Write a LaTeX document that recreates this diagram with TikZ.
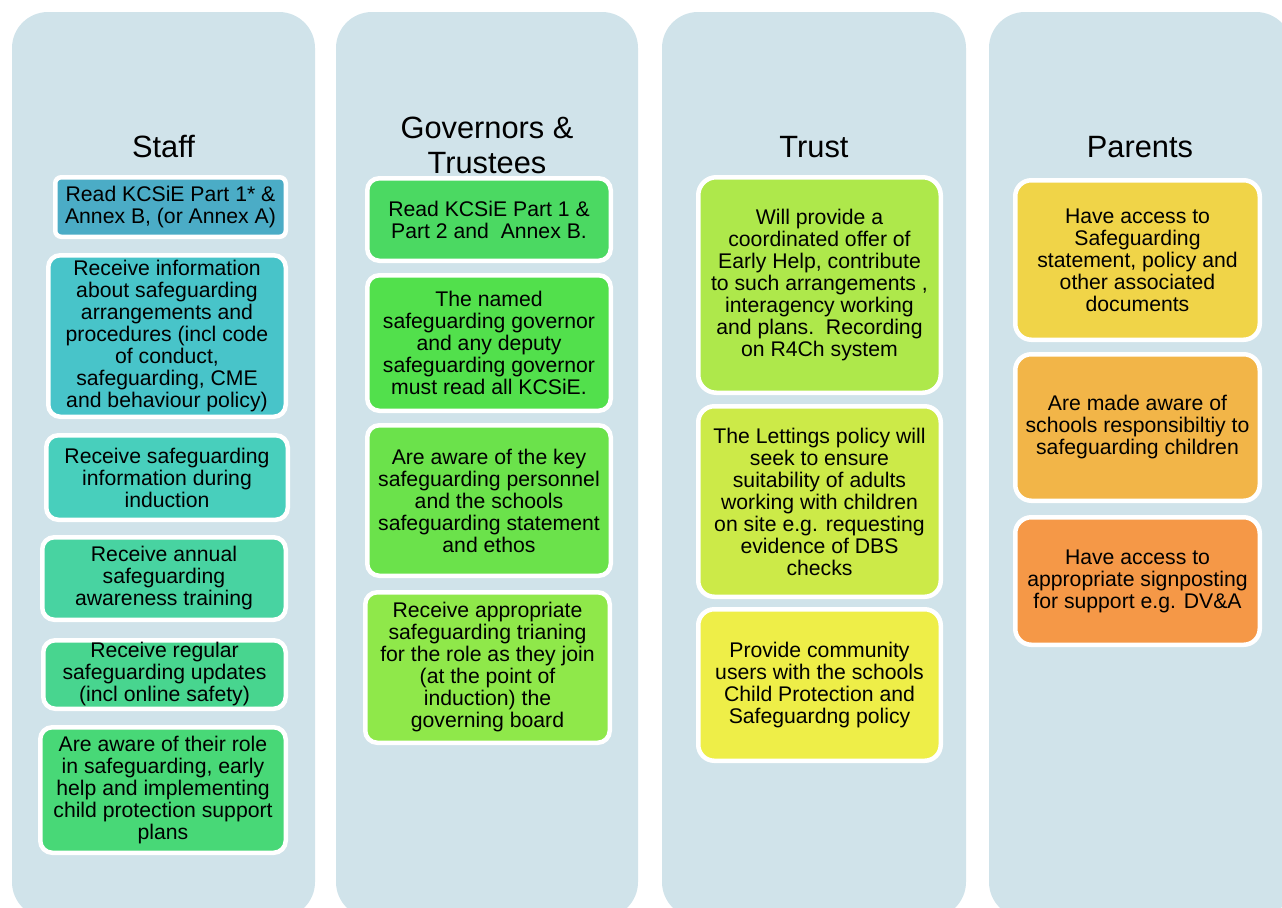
\documentclass[tikz,border=0pt]{standalone}
\usepackage{fontspec}
\setmainfont{Liberation Sans}
\definecolor{colbg}{HTML}{D0E3EA}
\definecolor{cSa}{HTML}{4BACC6}
\definecolor{cSb}{HTML}{48C4C9}
\definecolor{cSc}{HTML}{48CFBC}
\definecolor{cSd}{HTML}{48D3A1}
\definecolor{cSe}{HTML}{48D58F}
\definecolor{cSf}{HTML}{48D877}
\definecolor{cGa}{HTML}{4BD962}
\definecolor{cGb}{HTML}{52E04C}
\definecolor{cGc}{HTML}{6BE24B}
\definecolor{cGd}{HTML}{8FE84A}
\definecolor{cTa}{HTML}{AEE84B}
\definecolor{cTb}{HTML}{CCEA48}
\definecolor{cTc}{HTML}{EEEE48}
\definecolor{cPa}{HTML}{F0D448}
\definecolor{cPb}{HTML}{F2B548}
\definecolor{cPc}{HTML}{F59847}
\tikzset{
  colbox/.style={fill=colbg, rounded corners=18pt},
  bx/.style={draw=white, line width=2.25pt, rounded corners=6pt, inner sep=0pt,
    align=center, text=black, font=\fontsize{10.6}{11}\selectfont},
  ttl/.style={anchor=base, align=center, inner sep=0pt, text=black,
    font=\fontsize{15.4}{17.5}\selectfont}
}
\newcommand{\bx}[8][]{\node[bx, #1, fill=#7, minimum width={(#4-4.5)*0.5pt}, minimum height={(#5-4.5)*0.5pt}] (#2) at (#3,#6) {#8};}
\begin{document}
\begin{tikzpicture}[x=0.5pt,y=-0.5pt]
\useasboundingbox (0,0) rectangle (1282,907);
\clip (0,0) rectangle (1282,907);
% columns
\path[colbox] (12,12) rectangle (315,918);
\path[colbox] (336,12) rectangle (638,918);
\path[colbox] (662,12) rectangle (966,918);
\path[colbox] (989,12) rectangle (1292,918);
% titles
\node[ttl] (tS) at (163.5,157) {Staff};
\node[ttl] (tG) at (487,173) {Governors \&\\Trustees};
\node[ttl] (tT) at (814,157) {Trust};
\node[ttl] (tP) at (1140,157) {Parents};
% Staff
\bx[rounded corners=3pt]{s1}{170.5}{235}{64}{207}{cSa}{Read KCSiE Part 1* \&\\Annex B, (or Annex A)}
\bx{s2}{167}{242}{166}{336}{cSb}{Receive information\\about safeguarding\\arrangements and\\procedures (incl code\\of conduct,\\safeguarding, CME\\and behaviour policy)}
\bx{s3}{167}{246}{89}{477.5}{cSc}{Receive safeguarding\\information during\\induction}
\bx{s4}{164}{248}{87}{578.5}{cSd}{Receive annual\\safeguarding\\awareness training}
\bx{s5}{164.5}{247}{73}{674.5}{cSe}{Receive regular\\safeguarding updates\\(incl online safety)}
\bx{s6}{163}{250}{130}{790}{cSf}{Are aware of their role\\in safeguarding, early\\help and implementing\\child protection support\\plans}
% Governors
\bx{g1}{489}{248}{87}{219.5}{cGa}{Read KCSiE Part 1 \&\\Part 2 and\ \ Annex B.}
\bx{g2}{489}{248}{140}{343}{cGb}{The named\\safeguarding governor\\and any deputy\\safeguarding governor\\must read all KCSiE.}
\bx{g3}{489}{248}{155}{500.5}{cGc}{Are aware of the key\\safeguarding personnel\\and the schools\\safeguarding statement\\and ethos}
\bx{g4}{487.5}{249}{155}{667.5}{cGd}{Receive appropriate\\safeguarding trianing\\for the role as they join\\(at the point of\\induction) the\\governing board}
% Trust
\bx[rounded corners=9pt]{t1}{819.5}{247}{220}{285}{cTa}{Will provide a\\coordinated offer of\\Early Help, contribute\\to such arrangements ,\\interagency working\\and plans.\ \ Recording\\on R4Ch system}
\bx[rounded corners=8pt]{t2}{819.5}{247}{195}{501.5}{cTb}{The Lettings policy will\\seek to ensure\\suitability of adults\\working with children\\on site e.g. requesting\\evidence of DBS\\checks}
\bx[rounded corners=8pt]{t3}{819.5}{247}{156}{685}{cTc}{Provide community\\users with the schools\\Child Protection and\\Safeguardng policy}
% Parents
\bx[rounded corners=8pt]{p1}{1137.5}{249}{164}{260}{cPa}{Have access to\\Safeguarding\\statement, policy and\\other associated\\documents}
\bx[rounded corners=8pt]{p2}{1137.5}{249}{151}{427.5}{cPb}{Are made aware of\\schools responsibiltiy to\\safeguarding children}
\bx[rounded corners=8pt]{p3}{1137.5}{249}{132}{581}{cPc}{Have access to\\appropriate signposting\\for support e.g. DV\&A}
\end{tikzpicture}
\end{document}
